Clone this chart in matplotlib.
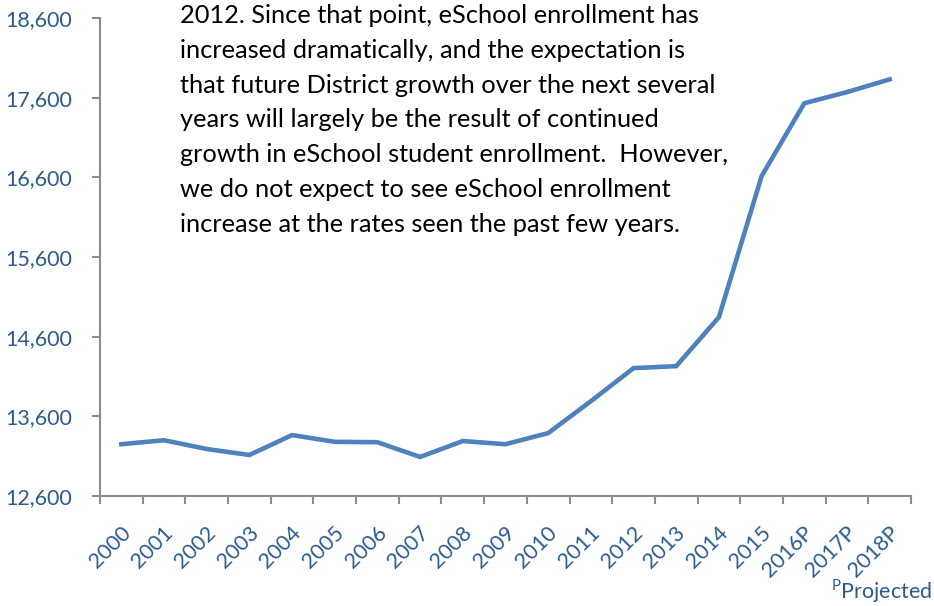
import matplotlib
matplotlib.use("Agg")
import matplotlib.pyplot as plt
import matplotlib.transforms as mtransforms
import numpy as np

plt.rcParams['font.family'] = ['Lato', 'DejaVu Sans']

# 데이터
years = ['2000', '2001', '2002', '2003', '2004', '2005', '2006', '2007', '2008',
         '2009', '2010', '2011', '2012', '2013', '2014', '2015', '2016P', '2017P', '2018P']
enrollment = [13250, 13300, 13190, 13115, 13365, 13280, 13275, 13090, 13290,
              13250, 13390, 13790, 14205, 14230, 14845, 16615, 17530, 17670, 17830]
y_ticks = [12600, 13600, 14600, 15600, 16600, 17600, 18600]

note = ("2012. Since that point, eSchool enrollment has\n"
        "increased dramatically, and the expectation is\n"
        "that future District growth over the next several\n"
        "years will largely be the result of continued\n"
        "growth in eSchool student enrollment.  However,\n"
        "we do not expect to see eSchool enrollment\n"
        "increase at the rates seen the past few years.")

LINE = '#4F81BD'
NAVY = '#2C5B8F'
AXIS = '#8C8C8C'

W, H = 934, 606
fig = plt.figure(figsize=(W / 100, H / 100), dpi=100)
ax = fig.add_axes([100 / W, 1 - 496 / H, 811 / W, 478 / H])

x = np.arange(len(years))
ax.plot(x, enrollment, color=LINE, linewidth=3.3, solid_joinstyle='miter', zorder=3)

ax.set_xlim(-0.5, len(years) - 0.5)
ax.set_ylim(12600, 18600)

ax.set_yticks(y_ticks)
ax.set_yticklabels([f"{v:,}" for v in y_ticks], color=NAVY, fontsize=15.5)
ax.tick_params(axis='y', length=6, width=1.5, color=AXIS, pad=14)

# 경계 눈금 + 가운데 라벨
ax.set_xticks(np.arange(-0.5, len(years)))
ax.set_xticklabels([])
ax.tick_params(axis='x', which='major', length=6, width=1.5, color=AXIS)
ax.set_xticks(x, minor=True)
ax.set_xticklabels(years, minor=True, rotation=45, ha='right', va='center',
                   rotation_mode='anchor', color=NAVY, fontsize=15.5)
ax.tick_params(axis='x', which='minor', length=0, pad=24)
shift = mtransforms.ScaledTranslation(6 / 100, 0, fig.dpi_scale_trans)
for lbl in ax.get_xticklabels(minor=True):
    lbl.set_transform(lbl.get_transform() + shift)

for s in ['top', 'right']:
    ax.spines[s].set_visible(False)
for s in ['left', 'bottom']:
    ax.spines[s].set_color(AXIS)
    ax.spines[s].set_linewidth(1.5)

fig.text(180 / W, 1 - 4 / H, note, ha='left', va='top', fontsize=18.3,
         linespacing=1.62, color='black')

fig.text(1 - 2 / W, 1 / H, r"$^{\mathregular{P}}$Projected", ha='right', va='bottom',
         fontsize=15.5, color=NAVY)

fig.savefig("out.png", dpi=100)
